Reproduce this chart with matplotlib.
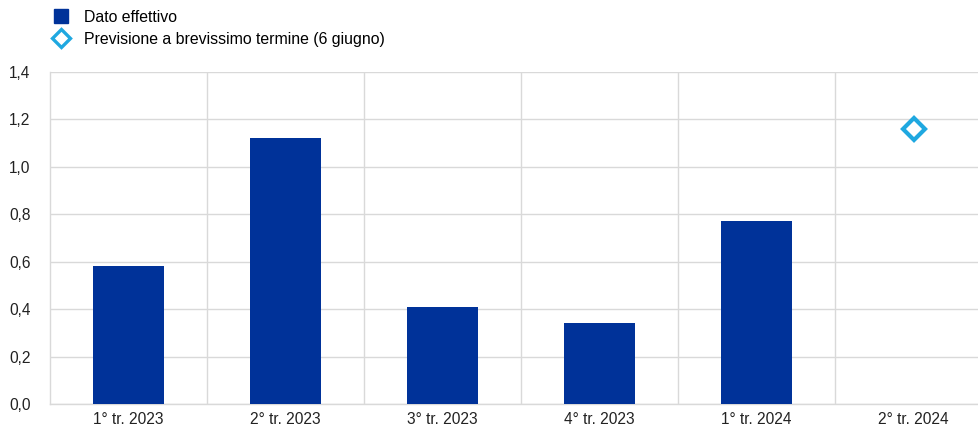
import matplotlib.pyplot as plt
from matplotlib.lines import Line2D
from matplotlib.ticker import FuncFormatter

plt.rcParams['font.family'] = ['Liberation Sans', 'DejaVu Sans']

quarters = ["1° tr. 2023", "2° tr. 2023", "3° tr. 2023", "4° tr. 2023", "1° tr. 2024", "2° tr. 2024"]
actual = [0.58, 1.12, 0.41, 0.34, 0.77]
nowcast_idx = 5
nowcast_val = 1.16

blue = "#003299"
cyan = "#1fa8e0"
grid = "#d9d9d9"

fig = plt.figure(figsize=(9.79, 4.30), dpi=100)
ax = fig.add_axes([50 / 979, 1 - 404 / 430, 942 / 979, 332 / 430])

x = list(range(len(actual)))
ax.bar(x, actual, width=0.45, color=blue, zorder=3)
ax.plot([nowcast_idx], [nowcast_val], linestyle="none", marker="D", markersize=11,
        markerfacecolor="white", markeredgecolor=cyan, markeredgewidth=3, zorder=4)

ax.set_xlim(-0.5, len(quarters) - 0.5)
ax.set_ylim(0, 1.4)
ax.set_yticks([0, 0.2, 0.4, 0.6, 0.8, 1.0, 1.2, 1.4])
ax.yaxis.set_major_formatter(FuncFormatter(lambda v, p: f"{v:.1f}".replace(".", ",")))
ax.set_xticks(range(len(quarters)))
ax.set_xticklabels(quarters)

# vertical separators between quarters
for b in range(1, len(quarters)):
    ax.axvline(b - 0.5, color=grid, linewidth=1, zorder=1)
ax.yaxis.grid(True, color=grid, linewidth=1, zorder=1)
ax.set_axisbelow(True)

for s in ["top", "right"]:
    ax.spines[s].set_visible(False)
for s in ["left", "bottom"]:
    ax.spines[s].set_color(grid)
    ax.spines[s].set_linewidth(1)
ax.tick_params(axis="both", length=0, labelsize=11.2, colors="#222222")
ax.tick_params(axis="y", pad=14)
ax.tick_params(axis="x", pad=6)

handles = [
    Line2D([], [], linestyle="none", marker="s", markersize=10, color=blue),
    Line2D([], [], linestyle="none", marker="D", markersize=9, markerfacecolor="white",
           markeredgecolor=cyan, markeredgewidth=2.4),
]
fig.legend(handles, ["Dato effettivo", "Previsione a brevissimo termine (6 giugno)"],
           loc="upper left", bbox_to_anchor=(52 / 979, 1 - 10 / 430), frameon=False,
           fontsize=11.4, handletextpad=0.8, labelspacing=0.42, borderaxespad=0,
           handlelength=1.2, borderpad=0)

fig.savefig("out.png", dpi=100)
